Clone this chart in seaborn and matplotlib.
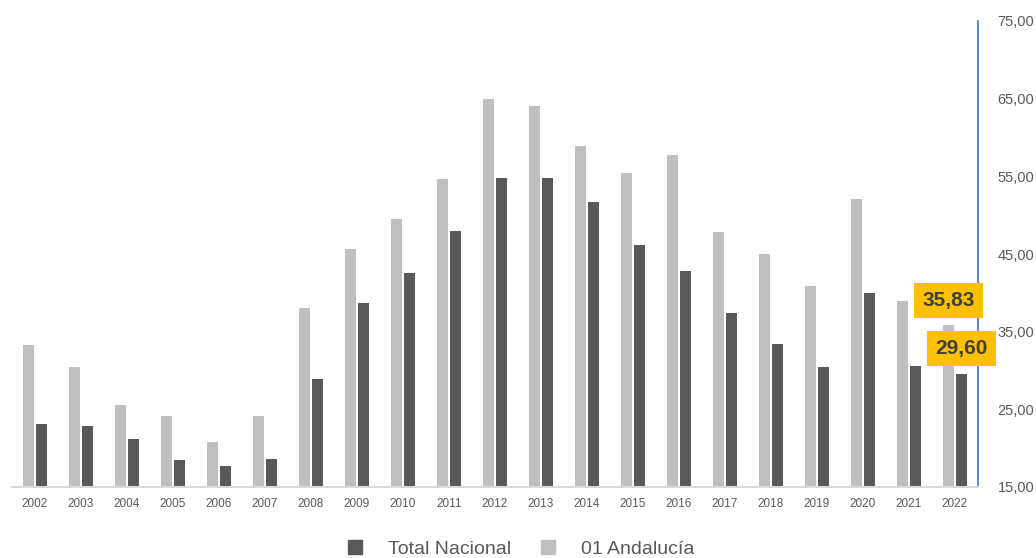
import pandas as pd
import numpy as np
import matplotlib
matplotlib.use('Agg')
import matplotlib.pyplot as plt
from matplotlib.lines import Line2D
import seaborn as sns

years = [str(y) for y in range(2002, 2023)]
andalucia = [33.3, 30.4, 25.6, 24.1, 20.8, 24.1, 38.1, 45.6, 49.5, 54.6, 65.0,
             64.0, 58.9, 55.4, 57.7, 47.8, 45.0, 40.9, 52.1, 39.0, 35.83]
nacional = [23.1, 22.9, 21.2, 18.5, 17.7, 18.6, 28.9, 38.7, 42.6, 48.0, 54.8,
            54.8, 51.7, 46.1, 42.8, 37.4, 33.4, 30.4, 40.0, 30.6, 29.60]
series = ['01 Andalucía', 'Total Nacional']
colors = {'01 Andalucía': '#BFBFBF', 'Total Nacional': '#595959'}
y_ticks = [15, 25, 35, 45, 55, 65, 75]

df = pd.DataFrame({
    'year': years * 2,
    'value': andalucia + nacional,
    'serie': [series[0]] * len(years) + [series[1]] * len(years),
})

sns.set_style('white')
plt.rcParams['font.family'] = ['Liberation Sans', 'DejaVu Sans']

fig = plt.figure(figsize=(10.36, 5.58), dpi=100)
ax = fig.add_axes([12 / 1036, 71 / 558, 966 / 1036, 466 / 558])

sns.barplot(data=df, x='year', y='value', hue='serie', hue_order=series,
            palette=colors, width=0.565, gap=0.23, ax=ax, legend=False,
            saturation=1, edgecolor='none')

ax.set_xlim(-0.5, len(years) - 0.5)
ax.set_ylim(15, 75)
ax.set_yticks(y_ticks)
ax.set_yticklabels([f'{v:.2f}'.replace('.', ',') for v in y_ticks])
ax.yaxis.tick_right()
ax.set_xlabel('')
ax.set_ylabel('')
ax.tick_params(axis='y', length=0, pad=14, labelsize=10.5, labelcolor='#595959')
ax.tick_params(axis='x', length=0, pad=8, labelsize=8.5, labelcolor='#595959')

for s in ['top', 'left']:
    ax.spines[s].set_visible(False)
ax.spines['right'].set_color('#4472C4')
ax.spines['right'].set_linewidth(1.2)
ax.spines['bottom'].set_color('#D9D9D9')
ax.spines['bottom'].set_linewidth(1.5)

# yellow value labels on the last year
last = len(years) - 1
for bars, val in [(ax.containers[0], andalucia[-1]), (ax.containers[1], nacional[-1])]:
    bar = bars[last]
    xc = bar.get_x() + bar.get_width() / 2
    ax.text(xc, val + 3.2, f'{val:.2f}'.replace('.', ','), ha='center', va='center',
            fontsize=15, fontweight='bold', color='#3F3F3F',
            bbox=dict(boxstyle='square,pad=0.38', facecolor='#FFC000', edgecolor='none'),
            clip_on=False, zorder=5)

handles = [Line2D([], [], marker='s', linestyle='none', markersize=9.5,
                  color=colors[s]) for s in ['Total Nacional', '01 Andalucía']]
fig.legend(handles, ['Total Nacional', '01 Andalucía'], loc='center',
           bbox_to_anchor=(520 / 1036, 1 - 549 / 558), ncol=2, frameon=False,
           fontsize=14, labelcolor='#595959', handlelength=1.0,
           handletextpad=1.2, columnspacing=1.4)

plt.savefig('out.png', dpi=100)
